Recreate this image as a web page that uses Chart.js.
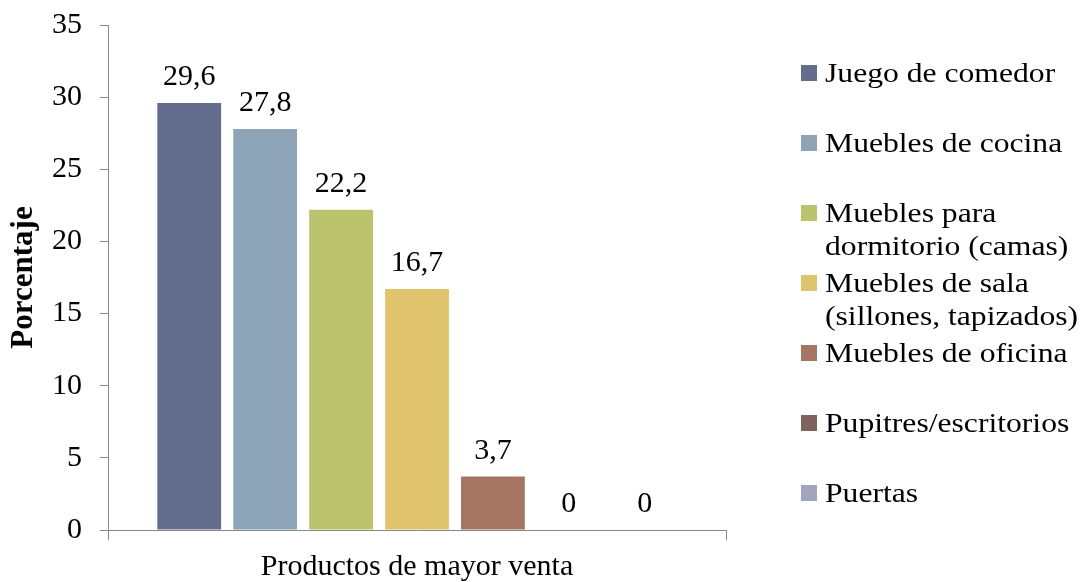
<!DOCTYPE html>
<html>
<head>
<meta charset="utf-8">
<script src="https://cdn.jsdelivr.net/npm/chart.js@4"></script>
<style>
  body { margin: 0; background: #fff; }
  #wrap { position: relative; width: 1083px; height: 582px; }
  #legend {
    position: absolute; left: 801px; top: 0; margin: 0; padding: 0; list-style: none;
    font-family: "Liberation Serif", "Times New Roman", serif; font-size: 28px; color: #000;
  }
  #legend li { position: absolute; left: 0; white-space: nowrap; line-height: 33px; }
  #legend span.box { position: absolute; left: 0; top: 9px; width: 16px; height: 16px; }
  #legend span.txt { position: absolute; left: 24px; top: 0; transform: scaleX(1.13); transform-origin: left top; }
</style>
</head>
<body>
<div id="wrap">
  <canvas id="myChart" width="1083" height="582"></canvas>
  <ul id="legend"></ul>
</div>
<script>
const categories = ["Productos de mayor venta"]
const seriesNames = [
  "Juego de comedor",
  "Muebles de cocina",
  "Muebles para dormitorio (camas)",
  "Muebles de sala (sillones, tapizados)",
  "Muebles de oficina",
  "Pupitres/escritorios",
  "Puertas",
]
// legend text wraps as in the original
const legendLines = [
  ["Juego de comedor"],
  ["Muebles de cocina"],
  ["Muebles para", "dormitorio (camas)"],
  ["Muebles de sala", "(sillones, tapizados)"],
  ["Muebles de oficina"],
  ["Pupitres/escritorios"],
  ["Puertas"],
]
const seriesValues = [29.6, 27.8, 22.2, 16.7, 3.7, 0, 0]
const yTicks = [0, 5, 10, 15, 20, 25, 30, 35]
const colors = ["#646d8e", "#8da3b6", "#bcc36d", "#dfc36d", "#a57562", "#7e625d", "#a1a6be"]

const font = "'Liberation Serif', 'Times New Roman', serif"
const ctx = document.getElementById("myChart")

const valueLabels = {
  id: "valueLabels",
  afterDatasetsDraw(chart) {
    const c = chart.ctx
    c.save()
    c.font = "30px " + font
    c.fillStyle = "#000"
    c.textAlign = "center"
    c.textBaseline = "alphabetic"
    chart.data.datasets.forEach((ds, i) => {
      const bar = chart.getDatasetMeta(i).data[0]
      const txt = String(ds.data[0]).replace(".", ",")
      c.fillText(txt, bar.x, bar.y - 18)
    })
    c.restore()
  },
}

new Chart(ctx, {
  type: "bar",
  data: {
    labels: categories,
    datasets: seriesNames.map((name, i) => ({
      label: name,
      data: [seriesValues[i]],
      backgroundColor: colors[i],
      borderWidth: 0,
      barPercentage: 0.84,
      categoryPercentage: 0.86,
    })),
  },
  options: {
    responsive: false,
    animation: false,
    layout: { padding: { top: 25, right: 357, left: 5, bottom: -12 } },
    plugins: {
      legend: { display: false },
      tooltip: { enabled: false },
    },
    scales: {
      x: {
        grid: { display: true, drawOnChartArea: false, offset: true, tickLength: 10, color: "#888" },
        border: { color: "#888" },
        ticks: { color: "#000", font: { family: font, size: 30, lineHeight: 1 }, padding: 12 },
      },
      y: {
        min: 0,
        max: 35,
        afterBuildTicks(axis) {
          axis.ticks = yTicks.map((v) => ({ value: v }))
        },
        afterFit(axis) {
          axis.width = 103
          axis.paddingTop = 0
          axis.paddingBottom = 0
        },
        grid: { drawOnChartArea: false, tickLength: 8, color: "#888" },
        border: { color: "#888" },
        ticks: { color: "#000", font: { family: font, size: 30 }, padding: 18 },
        title: {
          display: true,
          text: "Porcentaje",
          color: "#000",
          font: { family: font, size: 31, weight: "bold" },
          padding: { top: 0, bottom: 2 },
        },
      },
    },
  },
  plugins: [valueLabels],
})

// html legend
const legendTops = [56, 126, 196, 266, 336, 406, 476]
const ul = document.getElementById("legend")
legendLines.forEach((lines, i) => {
  const li = document.createElement("li")
  li.style.top = legendTops[i] + "px"
  li.innerHTML =
    '<span class="box" style="background:' + colors[i] + '"></span>' +
    '<span class="txt">' + lines.join("<br>") + "</span>"
  ul.appendChild(li)
})
</script>
</body>
</html>
